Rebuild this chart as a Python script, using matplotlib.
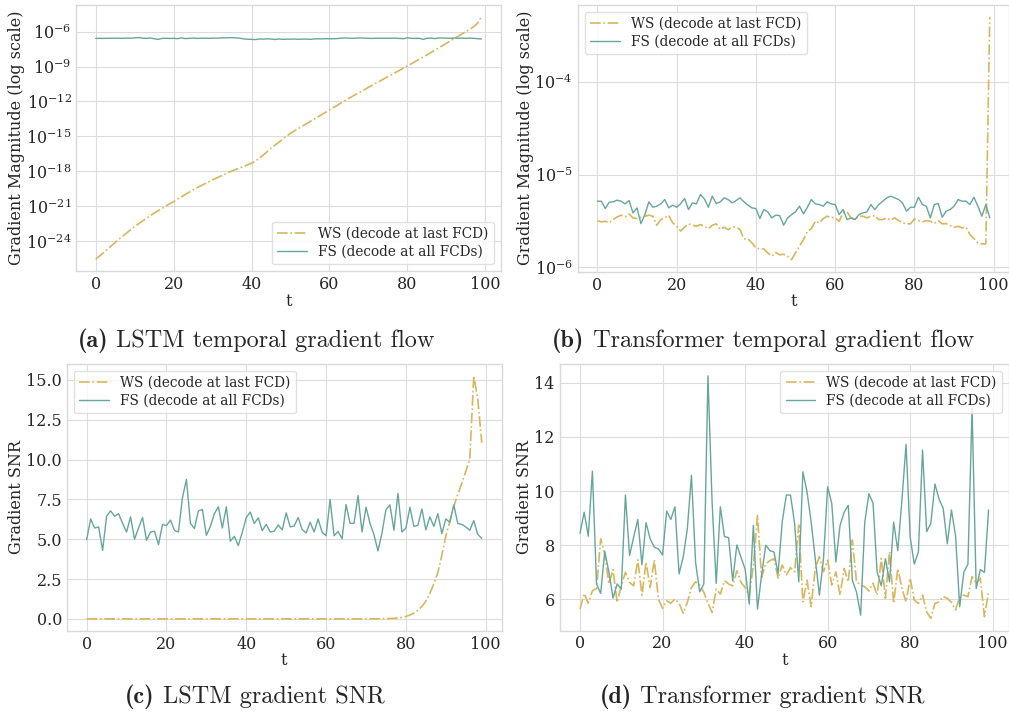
import numpy as np
import matplotlib
matplotlib.use("Agg")
import matplotlib.pyplot as plt

plt.style.use("seaborn-v0_8-whitegrid")
plt.rcParams["font.family"] = "DejaVu Serif"
plt.rcParams["mathtext.fontset"] = "dejavuserif"
plt.rcParams["axes.edgecolor"] = "#d9d9d9"
plt.rcParams["grid.color"] = "#dcdcdc"
plt.rcParams["xtick.color"] = "#262626"
plt.rcParams["ytick.color"] = "#262626"

t = np.arange(100)

ws_label = "WS (decode at last FCD)"
fs_label = "FS (decode at all FCDs)"
ws_color = "#d8b65e"
fs_color = "#66a69b"

# LSTM gradient magnitude, log10 of the value
lstm_ws_log = [
    -25.58, -25.30, -25.02, -24.73, -24.43, -24.14, -23.86, -23.58, -23.31, -23.04,
    -22.77, -22.53, -22.30, -22.07, -21.84, -21.62, -21.41, -21.21, -21.01, -20.81,
    -20.62, -20.41, -20.21, -20.01, -19.81, -19.61, -19.43, -19.26, -19.09, -18.92,
    -18.75, -18.59, -18.44, -18.29, -18.13, -17.98, -17.85, -17.72, -17.59, -17.46,
    -17.32, -17.12, -16.88, -16.62, -16.33, -16.03, -15.77, -15.51, -15.25, -14.99,
    -14.74, -14.54, -14.34, -14.14, -13.94, -13.74, -13.54, -13.34, -13.14, -12.94,
    -12.74, -12.54, -12.34, -12.13, -11.93, -11.73, -11.54, -11.35, -11.17, -10.98,
    -10.79, -10.61, -10.42, -10.24, -10.05, -9.87, -9.69, -9.50, -9.32, -9.13,
    -8.95, -8.76, -8.57, -8.38, -8.19, -8.00, -7.80, -7.60, -7.40, -7.20,
    -7.00, -6.80, -6.60, -6.40, -6.20, -6.00, -5.80, -5.57, -5.28, -4.71,
]
lstm_fs_log = [
    -6.58, -6.57, -6.58, -6.56, -6.57, -6.55, -6.56, -6.57, -6.55, -6.56,
    -6.53, -6.50, -6.55, -6.57, -6.54, -6.60, -6.66, -6.58, -6.56, -6.58,
    -6.57, -6.60, -6.53, -6.59, -6.57, -6.55, -6.58, -6.56, -6.55, -6.57,
    -6.55, -6.56, -6.54, -6.53, -6.52, -6.51, -6.53, -6.56, -6.62, -6.65,
    -6.66, -6.68, -6.62, -6.64, -6.61, -6.63, -6.67, -6.62, -6.66, -6.64,
    -6.64, -6.63, -6.65, -6.64, -6.63, -6.66, -6.62, -6.61, -6.62, -6.60,
    -6.61, -6.60, -6.59, -6.56, -6.54, -6.55, -6.57, -6.55, -6.54, -6.55,
    -6.57, -6.58, -6.56, -6.57, -6.55, -6.57, -6.56, -6.55, -6.58, -6.60,
    -6.53, -6.57, -6.58, -6.56, -6.66, -6.57, -6.55, -6.59, -6.55, -6.54,
    -6.55, -6.57, -6.54, -6.56, -6.55, -6.57, -6.55, -6.57, -6.60, -6.62,
]

# Transformer gradient magnitude, log10 of the value
tf_ws_log = [
    -5.496, -5.510, -5.503, -5.521, -5.485, -5.456, -5.438, -5.456, -5.424, -5.467,
    -5.474, -5.460, -5.449, -5.438, -5.449, -5.546, -5.485, -5.467, -5.438, -5.521,
    -5.557, -5.610, -5.567, -5.531, -5.546, -5.557, -5.539, -5.557, -5.585, -5.546,
    -5.531, -5.593, -5.567, -5.593, -5.567, -5.564, -5.593, -5.693, -5.693, -5.736,
    -5.790, -5.801, -5.801, -5.844, -5.880, -5.840, -5.865, -5.858, -5.880, -5.916,
    -5.844, -5.772, -5.700, -5.610, -5.583, -5.503, -5.521, -5.474, -5.449, -5.460,
    -5.467, -5.503, -5.413, -5.402, -5.467, -5.485, -5.449, -5.449, -5.467, -5.449,
    -5.442, -5.485, -5.485, -5.467, -5.492, -5.467, -5.496, -5.521, -5.531, -5.531,
    -5.478, -5.496, -5.510, -5.496, -5.503, -5.528, -5.496, -5.531, -5.528, -5.550,
    -5.567, -5.557, -5.575, -5.567, -5.646, -5.690, -5.736, -5.747, -5.747, -3.300,
]
tf_fs_log = [
    -5.287, -5.287, -5.366, -5.298, -5.294, -5.276, -5.287, -5.316, -5.280, -5.413,
    -5.359, -5.528, -5.431, -5.294, -5.352, -5.341, -5.316, -5.269, -5.359, -5.330,
    -5.352, -5.316, -5.258, -5.377, -5.305, -5.316, -5.215, -5.262, -5.352, -5.233,
    -5.312, -5.294, -5.251, -5.269, -5.305, -5.280, -5.251, -5.294, -5.330, -5.359,
    -5.366, -5.474, -5.377, -5.402, -5.467, -5.438, -5.442, -5.546, -5.467, -5.431,
    -5.402, -5.341, -5.424, -5.352, -5.269, -5.316, -5.323, -5.341, -5.294, -5.316,
    -5.323, -5.431, -5.377, -5.485, -5.467, -5.485, -5.431, -5.413, -5.402, -5.323,
    -5.377, -5.323, -5.287, -5.251, -5.233, -5.251, -5.269, -5.305, -5.395, -5.352,
    -5.352, -5.244, -5.323, -5.341, -5.467, -5.323, -5.312, -5.460, -5.395, -5.377,
    -5.341, -5.269, -5.287, -5.287, -5.323, -5.244, -5.341, -5.449, -5.323, -5.467,
]

# gradient SNR
lstm_ws_snr = [
    0.0, 0.0, 0.0, 0.0, 0.0, 0.0, 0.0, 0.0, 0.0, 0.0,
    0.0, 0.0, 0.0, 0.0, 0.0, 0.0, 0.0, 0.0, 0.0, 0.0,
    0.0, 0.0, 0.0, 0.0, 0.0, 0.0, 0.0, 0.0, 0.0, 0.0,
    0.0, 0.0, 0.0, 0.0, 0.0, 0.0, 0.0, 0.0, 0.0, 0.0,
    0.0, 0.0, 0.0, 0.0, 0.0, 0.0, 0.0, 0.0, 0.0, 0.0,
    0.0, 0.0, 0.0, 0.0, 0.0, 0.0, 0.0, 0.0, 0.0, 0.0,
    0.0, 0.0, 0.0, 0.0, 0.0, 0.0, 0.0, 0.0, 0.0, 0.0,
    0.001, 0.002, 0.003, 0.005, 0.008, 0.012, 0.02, 0.03, 0.05, 0.09,
    0.15, 0.24, 0.36, 0.55, 0.78, 1.1, 1.6, 2.2, 2.9, 4.0,
    5.2, 6.1, 7.07, 7.8, 8.5, 9.27, 10.0, 15.25, 13.8, 11.05,
]
lstm_fs_snr = [
    4.97, 6.27, 5.70, 5.77, 4.30, 6.44, 6.78, 6.44, 6.60, 6.00,
    5.45, 6.40, 5.00, 5.70, 6.36, 4.93, 5.45, 5.50, 4.65, 5.93,
    5.85, 6.20, 5.55, 5.45, 7.60, 8.75, 6.00, 5.67, 6.78, 6.86,
    5.24, 5.80, 6.60, 7.03, 5.70, 7.03, 4.87, 5.18, 4.60, 5.43,
    6.36, 6.70, 5.98, 6.34, 5.54, 5.93, 5.45, 5.50, 5.90, 5.58,
    6.65, 5.77, 5.83, 6.36, 5.60, 5.39, 6.06, 5.45, 6.27, 5.43,
    5.22, 7.49, 5.22, 5.48, 5.03, 7.17, 6.00, 6.00, 7.74, 5.45,
    7.01, 6.00, 5.28, 4.26, 5.39, 6.86, 7.15, 5.56, 7.87, 5.45,
    5.70, 7.00, 5.80, 5.87, 6.90, 5.58, 6.40, 5.80, 6.60, 5.35,
    6.27, 6.06, 7.15, 5.98, 5.93, 5.77, 5.56, 6.17, 5.30, 5.05,
]
tf_ws_snr = [
    5.64, 6.22, 5.86, 6.32, 6.40, 8.23, 7.68, 6.57, 7.10, 5.89,
    6.50, 7.00, 6.63, 6.50, 7.46, 6.16, 7.37, 6.44, 7.46, 6.01,
    5.67, 5.95, 5.86, 6.01, 5.86, 5.49, 5.89, 6.44, 6.65, 6.53,
    6.26, 5.86, 5.52, 6.38, 6.20, 6.69, 6.57, 6.50, 7.06, 6.63,
    6.44, 6.14, 7.25, 9.10, 6.81, 7.31, 7.43, 7.50, 6.78, 7.27,
    6.90, 7.17, 7.02, 8.74, 5.91, 6.71, 5.73, 7.14, 7.58, 7.02,
    7.45, 6.53, 7.02, 6.16, 7.14, 6.65, 8.19, 6.65, 6.53, 6.47,
    6.31, 6.59, 6.16, 7.51, 6.04, 7.76, 5.85, 7.14, 6.41, 5.91,
    6.78, 5.98, 5.85, 6.16, 5.54, 5.30, 5.85, 5.91, 6.10, 6.04,
    5.89, 5.61, 6.10, 6.16, 6.10, 6.84, 6.59, 6.78, 5.36, 6.28,
]
tf_fs_snr = [
    8.44, 9.22, 8.33, 10.73, 6.57, 6.22, 7.77, 7.00, 6.05, 6.57,
    6.38, 9.85, 7.62, 8.30, 8.95, 7.28, 8.83, 8.23, 7.93, 7.86,
    7.64, 9.26, 8.95, 9.42, 6.94, 7.56, 8.60, 10.58, 7.37, 6.28,
    6.57, 14.25, 9.60, 6.59, 9.42, 8.32, 8.28, 6.69, 8.01, 7.56,
    7.12, 5.83, 8.73, 5.64, 6.90, 8.00, 7.80, 7.75, 6.96, 8.87,
    9.85, 9.85, 8.80, 6.65, 10.71, 9.97, 8.87, 7.50, 6.16, 7.50,
    10.16, 9.54, 7.38, 8.72, 9.22, 9.47, 6.70, 6.27, 5.42, 8.85,
    9.90, 9.55, 7.00, 6.50, 7.50, 6.65, 8.85, 7.80, 9.66, 11.72,
    8.30, 7.30, 7.76, 11.51, 8.50, 8.80, 10.26, 9.70, 9.36, 8.05,
    9.30, 8.35, 5.73, 7.00, 7.30, 13.05, 6.40, 7.10, 7.00, 9.30,
]

W, H = 1009, 713
fig = plt.figure(figsize=(W / 100, H / 100), dpi=100)


def add_axes(left, right, top, bottom):
    return fig.add_axes([left / W, 1 - bottom / H, (right - left) / W, (bottom - top) / H])


ax_a = add_axes(76.4, 500.7, 4.6, 271.3)
ax_b = add_axes(577.7, 1009.4, 4.7, 271.7)
ax_c = add_axes(66.9, 501.5, 363.7, 631.0)
ax_d = add_axes(559.6, 1009.0, 363.7, 630.5)

panels = [
    (ax_a, 10 ** np.array(lstm_ws_log), 10 ** np.array(lstm_fs_log), "lower right", True),
    (ax_b, 10 ** np.array(tf_ws_log), 10 ** np.array(tf_fs_log), "upper left", True),
    (ax_c, lstm_ws_snr, lstm_fs_snr, "upper left", False),
    (ax_d, tf_ws_snr, tf_fs_snr, "upper right", False),
]

for ax, ws, fs, loc, logy in panels:
    ax.plot(t, ws, color=ws_color, linestyle="-.", linewidth=1.2, label=ws_label)
    ax.plot(t, fs, color=fs_color, linestyle="-", linewidth=1.0, label=fs_label)
    if logy:
        ax.set_yscale("log")
        ax.set_ylabel("Gradient Magnitude (log scale)", fontsize=11.5)
    else:
        ax.set_ylabel("Gradient SNR", fontsize=11.5)
    ax.set_xlabel("t", fontsize=11.5)
    ax.set_xticks([0, 20, 40, 60, 80, 100])
    ax.tick_params(labelsize=11.5, length=0, which="both")
    ax.grid(True, which="major")
    ax.grid(False, which="minor")
    for s in ax.spines.values():
        s.set_color("#d9d9d9")
        s.set_linewidth(1.0)
    leg = ax.legend(loc=loc, fontsize=9.8, frameon=True, fancybox=True,
                    handlelength=2.2, borderpad=0.4, labelspacing=0.3)
    leg.get_frame().set_edgecolor("#d9d9d9")

ax_a.set_yticks([1e-24, 1e-21, 1e-18, 1e-15, 1e-12, 1e-9, 1e-6])
ax_a.minorticks_off()

ax_a.yaxis.set_label_coords(-0.121, 0.5)
ax_b.yaxis.set_label_coords(-0.101, 0.5)
ax_c.yaxis.set_label_coords(-0.096, 0.5)
ax_d.yaxis.set_label_coords(-0.059, 0.5)
for ax in (ax_a, ax_b, ax_c, ax_d):
    ax.xaxis.set_label_coords(0.5, -0.08)

# sub-figure captions: bold tag followed by roman text, centred as one line
captions = [
    (256, 341, "(a)", "LSTM temporal gradient flow"),
    (763, 341, "(b)", "Transformer temporal gradient flow"),
    (255, 697, "(c)", "LSTM gradient SNR"),
    (762, 697, "(d)", "Transformer gradient SNR"),
]
renderer = fig.canvas.get_renderer()
cap_size = 17.5
for cx, cy, tag, body in captions:
    y = 1 - cy / H
    tag_txt = fig.text(0, y, tag, fontfamily="cmb10", fontsize=cap_size, va="center")
    body_txt = fig.text(0, y, " " + body, fontfamily="cmr10", fontsize=cap_size, va="center")
    w_tag = tag_txt.get_window_extent(renderer).width
    w_body = body_txt.get_window_extent(renderer).width
    x0 = cx - (w_tag + w_body) / 2
    tag_txt.set_x(x0 / W)
    body_txt.set_x((x0 + w_tag) / W)

fig.savefig("out.png", dpi=100)
